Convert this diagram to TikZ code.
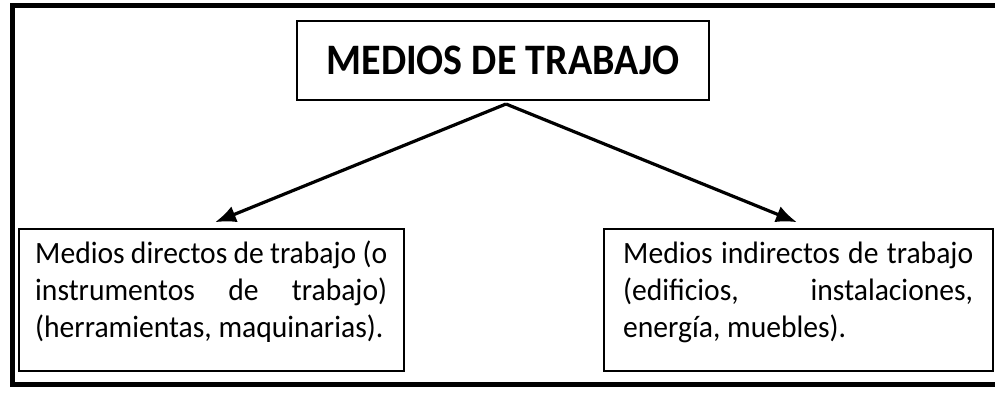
\documentclass[tikz,border=0pt]{standalone}
\usepackage{fontspec}
\setmainfont{Carlito}
\newfontfamily\bodyfont{Carlito}[FakeStretch=0.955]
\newfontfamily\titlefont{Carlito Bold}[FakeStretch=0.92]
\usetikzlibrary{arrows.meta}
\begin{document}
\begin{tikzpicture}[x=1pt,y=-1pt,
  frame/.style={line width=5pt, line join=miter},
  box/.style={draw, line width=1.5pt, inner sep=0pt},
  arr/.style={line width=3.2pt, -{Latex[length=21pt,width=17pt]}},
  bodytext/.style={anchor=base west, inner sep=0pt, font=\bodyfont\fontsize{31}{37}\selectfont}]
\useasboundingbox (0,0) rectangle (995,392);
\draw[frame] (1010,5) -- (12,5) -- (12,384.5) -- (1010,384.5);
\node[box, line width=2pt, minimum width=412pt, minimum height=79pt, text height=28pt, text depth=0pt, font=\titlefont\fontsize{43.5}{50}\selectfont] (title) at (503,60.5) {MEDIOS DE TRABAJO};
\node[box, minimum width=385pt, minimum height=142pt] (lbox) at (211.5,300) {};
\node[box, minimum width=389pt, minimum height=142pt] (rbox) at (798.5,300) {};
\node[bodytext] (ltext) at (35,263) {\parbox[t]{352pt}{\makebox[352pt][s]{Medios directos de trabajo (o}\\\makebox[352pt][s]{instrumentos de trabajo)}\\\mbox{(herramientas, maquinarias).}}};
\node[bodytext] (rtext) at (623,263) {\parbox[t]{350pt}{\makebox[350pt][s]{Medios indirectos de trabajo}\\\makebox[350pt][s]{(edificios, instalaciones,}\\\mbox{energía, muebles).}}};
\draw[arr] ([xshift=3pt,yshift=-3pt]title.south) -- ([xshift=3.5pt,yshift=6pt]lbox.north);
\draw[arr] ([xshift=3pt,yshift=-3pt]title.south) -- ([xshift=-1.5pt,yshift=6pt]rbox.north);
\end{tikzpicture}
\end{document}
